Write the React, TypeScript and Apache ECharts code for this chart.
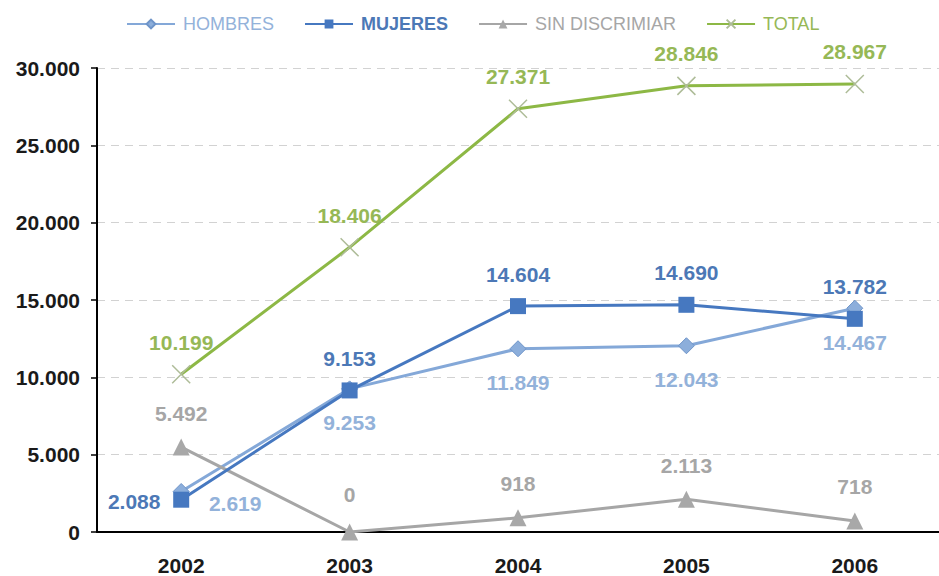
import React, { useEffect, useRef } from "react";
import * as echarts from "echarts";

const years = ["2002", "2003", "2004", "2005", "2006"];
const hombres = [2619, 9253, 11849, 12043, 14467];
const mujeres = [2088, 9153, 14604, 14690, 13782];
const sinDiscrimiar = [5492, 0, 918, 2113, 718];
const total = [10199, 18406, 27371, 28846, 28967];
const yTicks = { min: 0, max: 30000, interval: 5000 };

const FONT = "'Liberation Sans', Arial, sans-serif";
const fmt = (v: number) => String(v).replace(/\B(?=(\d{3})+(?!\d))/g, ".");

const C = {
  hombres: "#84A8D8",
  hombresLabel: "#93B2DA",
  mujeres: "#4678C0",
  mujeresLabel: "#4C78B6",
  sin: "#A6A6A6",
  total: "#8DB845",
  totalLabel: "#96B856",
};

export default function App() {
  const ref = useRef<HTMLDivElement>(null);
  useEffect(() => {
    if (!ref.current) return;
    const chart = echarts.init(ref.current, null, { renderer: "svg" });
    const labelBase = (color: string, dy: number) => ({
      show: true,
      position: "inside",
      offset: [0, dy],
      color,
      fontFamily: FONT,
      fontSize: 21,
      fontWeight: "bold",
      textBorderWidth: 0,
      formatter: (p: any) => fmt(p.value),
    });
    chart.setOption({
      animation: false,
      backgroundColor: "#ffffff",
      legend: {
        top: 10,
        left: 121,
        itemWidth: 48,
        itemHeight: 11,
        itemGap: 30,
        textStyle: { fontFamily: FONT, fontSize: 18, padding: [0, 0, 0, 3] },
        data: [
          { name: "HOMBRES", textStyle: { color: C.hombresLabel } },
          { name: "MUJERES", textStyle: { color: C.mujeresLabel, fontWeight: "bold" } },
          { name: "SIN DISCRIMIAR", textStyle: { color: C.sin } },
          { name: "TOTAL", textStyle: { color: C.totalLabel } },
        ],
      },
      grid: { left: 97, right: -10, top: 68, bottom: 44 },
      xAxis: {
        type: "category",
        data: years,
        boundaryGap: true,
        axisLine: { lineStyle: { color: "#000", width: 2 } },
        axisTick: { alignWithLabel: true, length: 5, lineStyle: { color: "#000", width: 1.5 } },
        axisLabel: {
          margin: 23,
          color: "#1a1a1a",
          fontFamily: FONT,
          fontSize: 21,
          fontWeight: "bold",
        },
      },
      yAxis: {
        type: "value",
        min: yTicks.min,
        max: yTicks.max,
        interval: yTicks.interval,
        axisLine: { show: true, lineStyle: { color: "#000", width: 2 } },
        axisTick: { show: true, length: 6, lineStyle: { color: "#000", width: 1.5 } },
        axisLabel: {
          margin: 17,
          color: "#1a1a1a",
          fontFamily: FONT,
          fontSize: 21,
          fontWeight: "bold",
          formatter: (v: number) => fmt(v),
        },
        splitLine: { lineStyle: { color: "#D2D2D2", type: [8, 6], width: 1.2 } },
      },
      series: [
        {
          name: "HOMBRES",
          type: "line",
          data: hombres.map((v, i) =>
            i === 0 ? { value: v, label: { offset: [54, 12] } } : v
          ),
          symbol: "diamond",
          symbolSize: 16,
          lineStyle: { color: C.hombres, width: 3 },
          itemStyle: { color: "#8CAEDB", borderColor: "#6F95C9", borderWidth: 1 },
          label: labelBase(C.hombresLabel, 34),
          z: 2,
        },
        {
          name: "MUJERES",
          type: "line",
          data: mujeres.map((v, i) =>
            i === 0 ? { value: v, label: { offset: [-47, 2] } } : v
          ),
          symbol: "rect",
          symbolSize: 16,
          lineStyle: { color: C.mujeres, width: 3 },
          itemStyle: { color: C.mujeres },
          label: labelBase(C.mujeresLabel, -32),
          z: 3,
        },
        {
          name: "SIN DISCRIMIAR",
          type: "line",
          data: sinDiscrimiar.map((v, i) =>
            i === 1 ? { value: v, label: { offset: [0, -38] } } : v
          ),
          symbol: "triangle",
          symbolSize: 17,
          lineStyle: { color: C.sin, width: 3 },
          itemStyle: { color: "#A8A8A8" },
          label: labelBase(C.sin, -34),
          z: 2,
        },
        {
          name: "TOTAL",
          type: "line",
          data: total,
          symbol: "path://M0,0L10,10M10,0L0,10",
          symbolSize: 18,
          lineStyle: { color: C.total, width: 3 },
          itemStyle: { color: "transparent", borderColor: "#AEBC98", borderWidth: 1.5 },
          label: labelBase(C.totalLabel, -32),
          z: 4,
        },
      ],
    });
    return () => chart.dispose();
  }, []);
  return (
    <div
      ref={ref}
      style={{ position: "fixed", left: 0, top: 0, width: 939, height: 576, background: "#fff" }}
    />
  );
}
